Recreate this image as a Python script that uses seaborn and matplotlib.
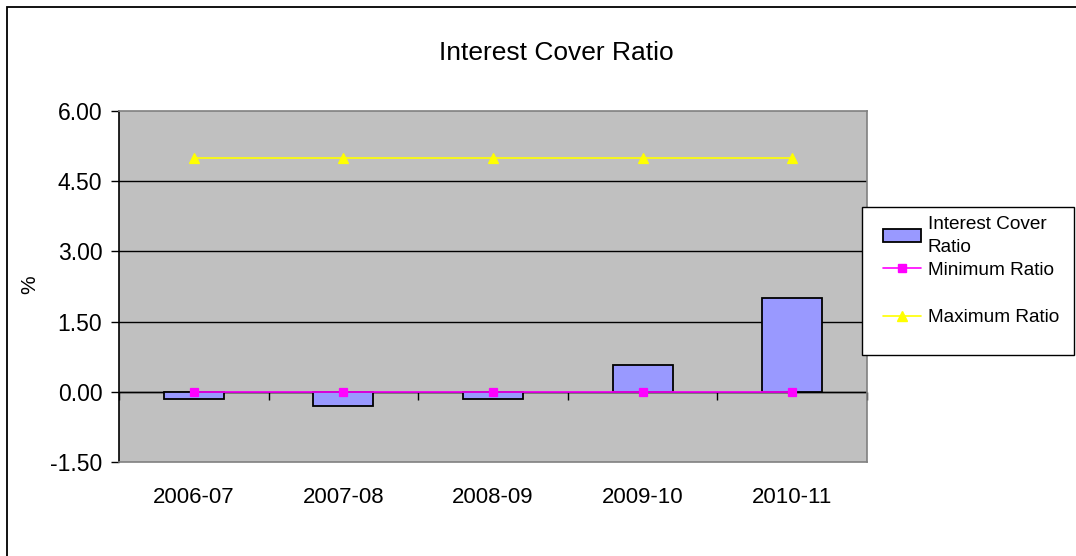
import matplotlib
matplotlib.use("Agg")
import matplotlib.pyplot as plt
import matplotlib.patches as mpatches
from matplotlib.lines import Line2D
import seaborn as sns
import pandas as pd

# Data
years = ["2006-07", "2007-08", "2008-09", "2009-10", "2010-11"]
interest_cover = [-0.15, -0.30, -0.15, 0.58, 2.00]
minimum_ratio = [0.0, 0.0, 0.0, 0.0, 0.0]
maximum_ratio = [5.0, 5.0, 5.0, 5.0, 5.0]
y_ticks = [-1.5, 0.0, 1.5, 3.0, 4.5, 6.0]

sns.set_theme(style="white")
plt.rcParams["font.family"] = ["Liberation Sans", "DejaVu Sans"]
plt.rcParams["text.color"] = "black"
plt.rcParams["xtick.color"] = "black"
plt.rcParams["ytick.color"] = "black"

W, H = 1076, 556
fig = plt.figure(figsize=(W / 100, H / 100), dpi=100)
ax = fig.add_axes([119 / W, 1 - 462 / H, 748 / W, 351 / H])
ax.set_facecolor("#C0C0C0")

df = pd.DataFrame({"year": years, "icr": interest_cover,
                   "min": minimum_ratio, "max": maximum_ratio})

# Gridlines behind the data
for v in y_ticks[1:-1]:
    ax.axhline(v, color="black", lw=1.0, zorder=0)

sns.barplot(data=df, x="year", y="icr", color="#9999FF", width=0.4,
            edgecolor="black", linewidth=1.3, saturation=1, ax=ax, zorder=2)

# Category axis crossing at zero
ax.axhline(0, color="black", lw=1.0, zorder=1)

sns.pointplot(data=df, x="year", y="min", color="#FF00FF", markers="s",
              markersize=6, linewidth=1.2, ax=ax, zorder=3)
sns.pointplot(data=df, x="year", y="max", color="#FFFF00", markers="^",
              markersize=7, linewidth=1.2, ax=ax, zorder=3)

ax.set_xlim(-0.5, len(years) - 0.5)
ax.set_ylim(y_ticks[0], y_ticks[-1])
ax.set_yticks(y_ticks)
ax.set_yticklabels([f"{v:.2f}" for v in y_ticks])
ax.set_xticks(range(len(years)))
ax.set_xticklabels(years)
ax.set_xlabel("")
ax.set_ylabel("")
ax.tick_params(axis="y", direction="out", length=6, width=1, color="black",
               labelsize=16.5, pad=6, left=True, labelcolor="black")
ax.tick_params(axis="x", length=0, labelsize=16, pad=18, labelcolor="black")

for side in ["top", "right", "bottom"]:
    ax.spines[side].set_color("#808080")
    ax.spines[side].set_linewidth(1.2)
ax.spines["left"].set_color("black")
ax.spines["left"].set_linewidth(1.2)

# Tick marks between categories along the zero line
frac0 = (0 - y_ticks[0]) / (y_ticks[-1] - y_ticks[0])
sec = ax.secondary_xaxis(frac0)
sec.set_xticks([i - 0.5 for i in range(len(years) + 1)])
sec.set_xticklabels([])
sec.tick_params(direction="out", length=6, width=1, color="black")
sec.spines["bottom"].set_visible(False)

fig.text(556 / W, 1 - 53 / H, "Interest Cover Ratio", ha="center",
         va="center", fontsize=19, color="black")
fig.text(30 / W, 1 - 285 / H, "%", ha="center", va="center",
         rotation=90, fontsize=15, color="black")

# Legend box
fig.patches.append(mpatches.Rectangle((862 / W, 1 - 355 / H), 212 / W,
                                      148 / H, transform=fig.transFigure,
                                      facecolor="white", edgecolor="black",
                                      lw=1.0, zorder=5))

bar_handle = mpatches.Patch(facecolor="#9999FF", edgecolor="black",
                            linewidth=1.3)
min_handle = Line2D([], [], color="#FF00FF", marker="s", markersize=6, lw=1.2)
max_handle = Line2D([], [], color="#FFFF00", marker="^", markersize=7, lw=1.2)

common = dict(loc="upper left", fontsize=13.7, frameon=False,
              borderaxespad=0, handlelength=2.0, borderpad=0,
              handletextpad=0.35)
leg1 = fig.legend([bar_handle, min_handle],
                  ["Interest Cover\nRatio", "Minimum Ratio"],
                  bbox_to_anchor=(883 / W, 1 - 216 / H), labelspacing=0.3,
                  **common)
for t in leg1.get_texts():
    t.set_linespacing(1.45)
leg2 = fig.legend([max_handle], ["Maximum Ratio"],
                  bbox_to_anchor=(883 / W, 1 - 309 / H), **common)
for lg in (leg1, leg2):
    lg.set_zorder(6)

# Chart border
fig.patches.append(mpatches.Rectangle((7 / W, -0.01), 1.02, 1 - 7 / H + 0.01,
                                      transform=fig.transFigure, fill=False,
                                      edgecolor="black", lw=1.3))

fig.savefig("out.png", dpi=100, facecolor="white")
